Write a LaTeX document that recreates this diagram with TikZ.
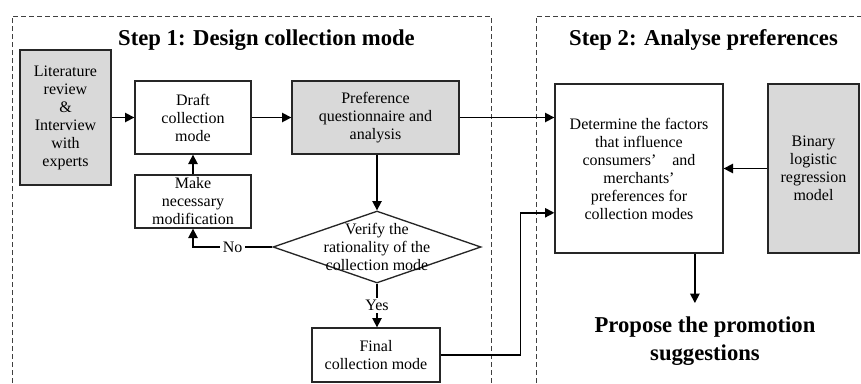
\documentclass[tikz,border=0pt]{standalone}
\usepackage{fontspec}
\setmainfont{Liberation Serif}
\usetikzlibrary{shapes.geometric, arrows.meta, positioning, calc}
\definecolor{boxgray}{RGB}{217,217,217}

\begin{document}
\begin{tikzpicture}[x=0.75pt, y=-0.75pt,
        box/.style={rectangle, draw=black!85, line width=1pt, align=center, fill=white, font=\fontsize{12}{13.5}\selectfont, inner sep=2pt},
        graybox/.style={box, fill=boxgray},
        decision/.style={diamond, draw=black!85, line width=1pt, minimum width=156pt, minimum height=54pt, inner sep=0pt},
        heading/.style={font=\fontsize{17}{21}\selectfont\bfseries, align=center},
        frame/.style={draw=black!75, line width=0.7pt, dash pattern=on 3.5pt off 2.5pt},
        arrow/.style={-{Triangle[length=7pt,width=7pt]}, line width=1.2pt, black},
        tag/.style={fill=white, font=\fontsize{12}{13.5}\selectfont, inner sep=2pt}
    ]
        \useasboundingbox (0,0) rectangle (861,383);
        % dashed frames of the two steps
        \draw[frame] (12,383) -- (12,16) -- (491,16) -- (491,383);
        \draw[frame] (536,383) -- (536,16) -- (861,16);
        \node[heading] (t1) at (266.5,40) {Step 1: Design collection mode};
        \node[heading] (t2) at (703.5,40) {Step 2: Analyse preferences};
        % step 1
        \node[graybox, minimum width=68.25pt, minimum height=101.25pt] (lit) at (65.5,117.5) {Literature\\ review\\ \&\\ Interview\\ with\\ experts};
        \node[box, minimum width=87pt, minimum height=54.75pt] (draft) at (193,117.5) {Draft\\ collection\\ mode};
        \node[graybox, minimum width=125.25pt, minimum height=54.75pt] (pref) at (375.5,117.5) {Preference\\ questionnaire and\\ analysis};
        \node[box, minimum width=87pt, minimum height=39.75pt] (make) at (193,201.5) {Make\\ necessary\\ modification};
        \node[decision, label={[font=\fontsize{12}{13.5}\selectfont, align=center]center:Verify the\\ rationality of the\\ collection mode}] (verify) at (377,247) {};
        \node[box, minimum width=96pt, minimum height=40.5pt] (final) at (376,355) {Final\\ collection mode};
        % step 2
        \node[box, minimum width=126pt, minimum height=126.75pt] (det) at (639,168.5) {Determine the factors\\ that influence\\ consumers’\quad and\\ merchants’\\ preferences for\\ collection modes};
        \node[graybox, minimum width=68.25pt, minimum height=126.75pt] (bin) at (813.5,168.5) {Binary\\ logistic\\ regression\\ model};
        \node[heading, inner ysep=10pt] (prop) at (705,341) {Propose the promotion\\ suggestions};
        % connectors
        \draw[arrow] (lit) -- (draft);
        \draw[arrow] (draft) -- (pref);
        \draw[arrow] (pref.south -| verify.north) -- (verify.north);
        \draw[arrow] (verify.west) -- node[tag] {No} (verify.west -| make.south) -- (make.south);
        \draw[arrow] (make) -- (draft);
        \draw[arrow] (verify.south) -- node[tag] {Yes} (final.north -| verify.south);
        \draw[arrow] (pref.east) -- (pref.east -| det.west);
        \draw[arrow] (final.east) -- ++(80,0) |- ($(det.south west)!0.24!(det.north west)$);
        \draw[arrow] (bin) -- (det);
        \coordinate (out) at ($(det.south west)!0.83!(det.south east)$);
        \draw[arrow] (out) -- (out |- prop.north);
    \end{tikzpicture}
\end{document}
